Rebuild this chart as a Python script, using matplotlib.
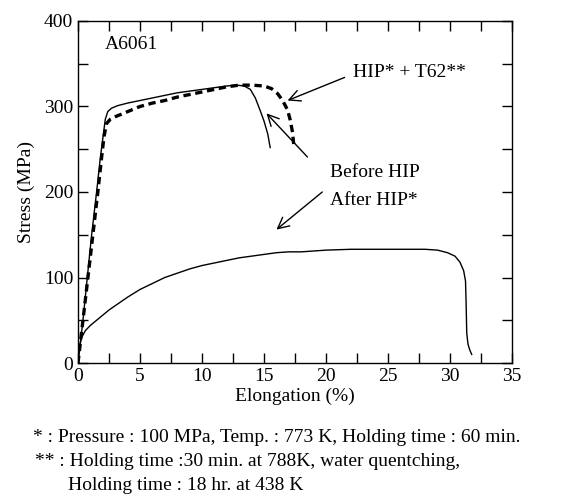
"""
Stress-strain curves for A6061 before/after HIP and with HIP + T62.
"""

import matplotlib.pyplot as plt
from matplotlib.ticker import MultipleLocator

plt.rcParams["font.family"] = ["Liberation Serif", "DejaVu Serif"]
plt.rcParams["mathtext.fontset"] = "stix"

# Before HIP (solid, high curve)
before_x = [0.0, 0.4, 0.75, 1.1, 1.5, 1.8, 2.05, 2.2, 2.4, 2.7, 3.2, 4.0, 5.0,
            6.0, 7.0, 8.0, 9.0, 10.0, 11.0, 12.0, 12.8, 13.4, 13.9, 14.3,
            14.7, 15.0, 15.3, 15.5]
before_y = [0, 50, 100, 150, 200, 240, 268, 285, 294, 298, 301, 304, 307,
            310, 313, 316, 318, 320, 322, 324, 325, 324, 320, 310,
            295, 283, 268, 252]

# After HIP* (solid, low curve)
after_x = [0.0, 0.1, 0.3, 0.6, 1.0, 1.5, 2.0, 2.5, 3.0, 4.0, 5.0, 6.0, 7.0,
           8.0, 9.0, 10.0, 11.0, 12.0, 13.0, 14.0, 15.0, 16.0, 17.0, 18.0,
           20.0, 22.0, 24.0, 26.0, 28.0, 29.0, 29.8, 30.4, 30.8, 31.1, 31.25,
           31.3, 31.35, 31.45, 31.6, 31.75]
after_y = [0, 18, 30, 38, 44, 50, 56, 62, 67, 77, 86, 93, 100,
           105, 110, 114, 117, 120, 123, 125, 127, 129, 130, 130,
           132, 133, 133, 133, 133, 132, 129, 125, 118, 108, 96,
           70, 35, 22, 15, 10]

# HIP* + T62** (dashed)
t62_x = [0.0, 0.4, 0.8, 1.2, 1.6, 1.9, 2.1, 2.3, 2.6, 3.0, 4.0, 5.0, 6.0,
         7.0, 8.0, 9.0, 10.0, 11.0, 12.0, 13.0, 14.0, 15.0, 15.6, 16.1,
         16.5, 16.9, 17.1, 17.3, 17.4]
t62_y = [0, 50, 100, 150, 200, 240, 265, 280, 285, 288, 294, 300, 304,
         307, 311, 314, 317, 320, 323, 325, 325, 324, 321, 315,
         307, 296, 285, 270, 255]

footnotes = [
    "* : Pressure : 100 MPa, Temp. : 773 K, Holding time : 60 min.",
    "** : Holding time :30 min. at 788K, water quentching,",
    "Holding time : 18 hr. at 438 K",
]

fig = plt.figure(figsize=(5.63, 4.96), dpi=100)
ax = fig.add_axes([78 / 563, 133 / 496, 434 / 563, 342 / 496])

ax.plot(before_x, before_y, color="black", lw=1.0)
ax.plot(after_x, after_y, color="black", lw=1.0)
ax.plot(t62_x, t62_y, color="black", lw=2.4, dashes=(2.2, 1.4))

ax.set_xlim(0, 35)
ax.set_ylim(0, 400)
ax.xaxis.set_major_locator(MultipleLocator(5))
ax.xaxis.set_minor_locator(MultipleLocator(2.5))
ax.yaxis.set_major_locator(MultipleLocator(100))
ax.yaxis.set_minor_locator(MultipleLocator(50))
ax.tick_params(which="both", direction="in", top=True, right=True,
               labelsize=14, width=1.0)
ax.tick_params(which="major", length=7)
ax.tick_params(which="minor", length=7)
for s in ax.spines.values():
    s.set_linewidth(1.0)

ax.set_xlabel("Elongation (%)", fontsize=14, labelpad=2)
ax.set_ylabel("Stress (MPa)", fontsize=14, labelpad=6)

ax.text(2.2, 372, "A6061", fontsize=14, va="center")

arrow = dict(arrowstyle="->", color="black", lw=1.0,
             mutation_scale=20, shrinkA=0, shrinkB=0)
ax.annotate("", xy=(16.9, 307), xytext=(21.5, 334), arrowprops=arrow)
ax.text(22.2, 340, "HIP* + T62**", fontsize=14, va="center")
ax.annotate("", xy=(15.2, 292), xytext=(18.5, 241), arrowprops=arrow)
ax.text(20.3, 223, "Before HIP", fontsize=14, va="center")
ax.text(20.3, 190, "After HIP*", fontsize=14, va="center")
ax.annotate("", xy=(16.0, 156), xytext=(19.7, 200), arrowprops=arrow)

fig.text(33 / 563, 1 - 437 / 496, footnotes[0], fontsize=14, va="center")
fig.text(35 / 563, 1 - 462 / 496, footnotes[1], fontsize=14, va="center")
fig.text(68 / 563, 1 - 485 / 496, footnotes[2], fontsize=14, va="center")

fig.savefig("out.png", dpi=100)
